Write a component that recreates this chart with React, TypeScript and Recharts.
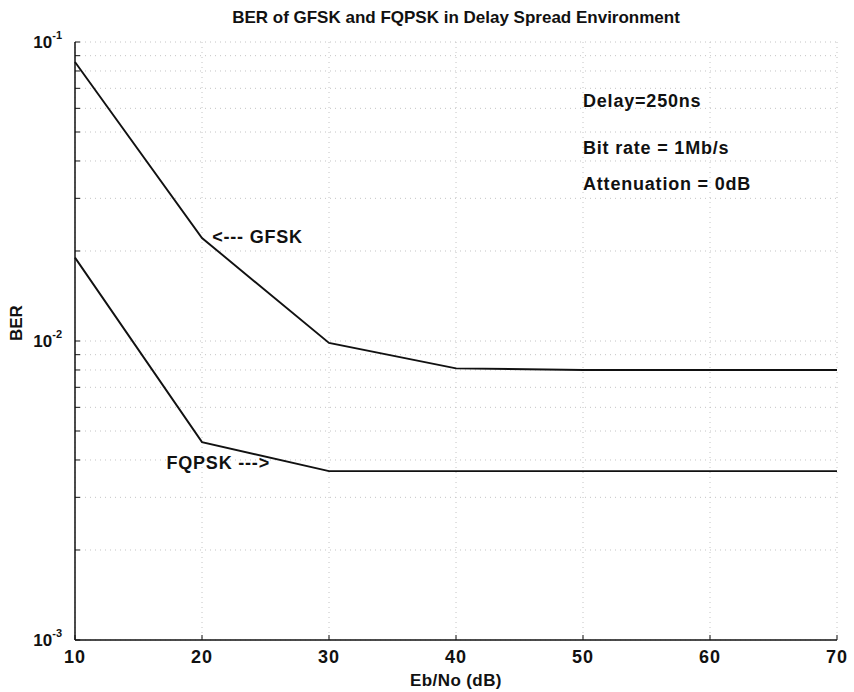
import React from "react";
import {
  LineChart,
  Line,
  XAxis,
  YAxis,
  CartesianGrid,
  ReferenceDot,
} from "recharts";

// Eb/No in dB and BER
const ebNo = [10, 20, 30, 40, 50, 60, 70];
const gfskBer = [0.0857, 0.0221, 0.00985, 0.0081, 0.008, 0.008, 0.008];
const fqpskBer = [0.019, 0.00459, 0.00367, 0.00367, 0.00367, 0.00367, 0.00367];

const xTicks = [10, 20, 30, 40, 50, 60, 70];
const decades = [0.001, 0.01];
const yTicks = [
  ...decades.flatMap((d) => [1, 2, 3, 4, 5, 6, 7, 8, 9].map((m) => +(m * d).toPrecision(3))),
  0.1,
];

const FONT = "'Liberation Sans', Arial, Helvetica, sans-serif";
const INK = "#111";

const data = ebNo.map((x, i) => ({ x, gfsk: gfskBer[i], fqpsk: fqpskBer[i] }));

function isDecade(v: number) {
  const e = Math.round(Math.log10(v));
  return Math.abs(v - Math.pow(10, e)) < 1e-9;
}

function YTick({ x, y, payload }: any) {
  const v = payload.value;
  if (!isDecade(v)) return <g />;
  const e = Math.round(Math.log10(v));
  return (
    <text x={x} y={y + 6} textAnchor="end" fill={INK} fontFamily={FONT} fontSize={17} fontWeight="bold">
      <tspan>10</tspan>
      <tspan dy={-9} fontSize={11}>{e}</tspan>
    </text>
  );
}

function XTick({ x, y, payload }: any) {
  return (
    <text
      x={x}
      y={y + 18}
      textAnchor="middle"
      fill={INK}
      fontFamily={FONT}
      fontSize={18}
      fontWeight="bold"
      letterSpacing={1}
    >
      {payload.value}
    </text>
  );
}

const note = (value: string) => ({
  value,
  position: "right" as const,
  offset: 0,
  fill: INK,
  fontSize: 18,
  fontWeight: "bold",
  letterSpacing: 0.8,
  fontFamily: FONT,
});

export default function App() {
  return (
    <div style={{ position: "absolute", left: 0, top: 0, width: 854, height: 692, background: "#fff" }}>
      <LineChart
        width={854}
        height={692}
        data={data}
        margin={{ top: 42, right: 17, bottom: 0, left: 0 }}
      >
        <CartesianGrid stroke="#c4c4c4" strokeDasharray="1 4" />
        <XAxis
          dataKey="x"
          type="number"
          domain={[10, 70]}
          ticks={xTicks}
          height={52}
          tickSize={-5}
          tickMargin={10}
          tick={<XTick />}
          axisLine={{ stroke: INK, strokeWidth: 1.5 }}
          tickLine={{ stroke: INK }}
          label={{
            value: "Eb/No (dB)",
            position: "insideBottom",
            offset: 6,
            fill: INK,
            fontSize: 17,
            fontWeight: "bold",
            letterSpacing: 0.4,
            fontFamily: FONT,
          }}
        />
        <XAxis
          xAxisId="top"
          orientation="top"
          dataKey="x"
          type="number"
          domain={[10, 70]}
          ticks={xTicks}
          height={0}
          tickSize={-5}
          tick={false}
          axisLine={{ stroke: INK, strokeWidth: 1.5 }}
          tickLine={{ stroke: INK }}
        />
        <YAxis
          type="number"
          scale="log"
          domain={[0.001, 0.1]}
          allowDataOverflow
          ticks={yTicks}
          interval={0}
          width={75}
          tickSize={-5}
          tickMargin={18}
          tick={<YTick />}
          axisLine={{ stroke: INK, strokeWidth: 1.5 }}
          tickLine={{ stroke: INK }}
          label={{
            value: "BER",
            angle: -90,
            position: "insideLeft",
            offset: 16,
            fill: INK,
            fontSize: 17,
            fontWeight: "bold",
            fontFamily: FONT,
          }}
        />
        <YAxis
          yAxisId="right"
          orientation="right"
          type="number"
          scale="log"
          domain={[0.001, 0.1]}
          allowDataOverflow
          ticks={yTicks}
          interval={0}
          width={0}
          tickSize={-5}
          tick={false}
          axisLine={{ stroke: INK, strokeWidth: 1.5 }}
          tickLine={{ stroke: INK }}
        />
        <Line dataKey="gfsk" stroke={INK} strokeWidth={1.9} dot={false} isAnimationActive={false} />
        <Line dataKey="fqpsk" stroke={INK} strokeWidth={1.9} dot={false} isAnimationActive={false} />
        <ReferenceDot x={20.8} y={0.0223} r={0} fill="none" stroke="none" label={note("<--- GFSK")} />
        <ReferenceDot x={17.2} y={0.00391} r={0} fill="none" stroke="none" label={note("FQPSK --->")} />
        <ReferenceDot x={50} y={0.0635} r={0} fill="none" stroke="none" label={note("Delay=250ns")} />
        <ReferenceDot x={50} y={0.0442} r={0} fill="none" stroke="none" label={note("Bit rate = 1Mb/s")} />
        <ReferenceDot x={50} y={0.0335} r={0} fill="none" stroke="none" label={note("Attenuation = 0dB")} />
        <text x={456} y={23} textAnchor="middle" fill={INK} fontFamily={FONT} fontSize={17} fontWeight="bold">
          BER of GFSK and FQPSK in Delay Spread Environment
        </text>
      </LineChart>
    </div>
  );
}
